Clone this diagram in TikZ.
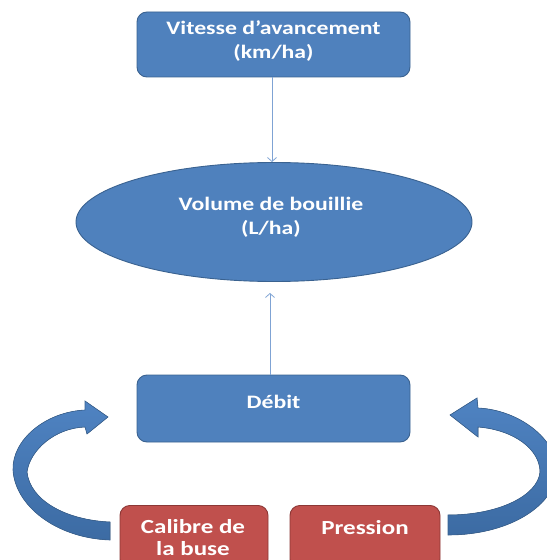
\documentclass[tikz,border=0pt]{standalone}
\usepackage{fontspec}
\newfontfamily\calfont{Carlito}[FakeStretch=1.25]
\usetikzlibrary{shapes.geometric,arrows.meta}
\definecolor{bfill}{HTML}{4F81BD}
\definecolor{bline}{HTML}{3A6290}
\definecolor{rfill}{HTML}{C0504D}
\definecolor{rline}{HTML}{8C3836}
\definecolor{conn}{HTML}{7FA3D4}
\definecolor{ribtop}{HTML}{4F83C2}
\definecolor{ribbot}{HTML}{3C6BA3}
\tikzset{
  bluebox/.style={draw=bline, line width=0.9bp, fill=bfill, rounded corners=10bp, inner sep=0pt},
  redbox/.style={draw=rline, line width=0.9bp, fill=rfill, rounded corners=10bp, inner sep=0pt},
  blueell/.style={draw=bline, line width=0.9bp, fill=bfill, ellipse, inner sep=0pt},
  lbl/.style={text=white, font=\calfont\bfseries\fontsize{19bp}{24bp}\selectfont, align=center, inner sep=0pt},
  rlbl/.style={text=white, font=\calfont\bfseries\fontsize{20bp}{22bp}\selectfont, align=center, inner sep=0pt},
  connector/.style={draw=conn, line width=0.8bp, -{Straight Barb[length=4bp,width=9bp]}},
  ribbon/.style={top color=ribtop, bottom color=ribbot, draw=bline, line width=0.6bp}
}
\begin{document}
\begin{tikzpicture}[x=1bp,y=-1bp]
\useasboundingbox (0,0) rectangle (547,560);
\clip (0,0) rectangle (547,560);
% boxes
\node[bluebox, minimum width=273bp, minimum height=65bp] (vitesse) at (273.5,44.5) {};
\node[lbl] (vitesseT) at (273.5,41) {Vitesse d’avancement\\(km/ha)};
\node[blueell, minimum width=396bp, minimum height=119bp] (volume) at (274,222) {};
\node[lbl] (volumeT) at (271,217) {Volume de bouillie\\(L/ha)};
\node[bluebox, minimum width=273bp, minimum height=67bp] (debit) at (273.5,408.5) {};
\node[lbl] (debitT) at (273.5,402) {Débit};
\node[redbox, minimum width=148bp, minimum height=64bp, anchor=north] (calibre) at (194,505) {};
\node[rlbl] (calibreT) at (193,537.5) {Calibre de\\la buse};
\node[redbox, minimum width=150bp, minimum height=64bp, anchor=north] (pression) at (365,505) {};
\node[rlbl] (pressionT) at (365,528) {Pression};
% connectors
\draw[connector] (vitesse.south -| 272,0) -- (volume.north -| 272,0);
\draw[connector, shorten >=11bp] (debit.north -| 270,0) -- (volume.south -| 270,0);
% curved block arrows
\fill[ribbon] (110,540) -- (110,522)
  .. controls (65,520) and (30,500) .. (27,472)
  .. controls (30,450) and (55,428) .. (85,427)
  -- (87,434) -- (108,417) -- (85,401) -- (85,410)
  .. controls (45,412) and (12,440) .. (13,470)
  .. controls (15,505) and (55,538) .. (110,540) -- cycle;
\fill[ribbon] (448,535) -- (448,515)
  .. controls (500,515) and (538,495) .. (540,472)
  .. controls (540,450) and (515,430) .. (478,427)
  -- (478,437) -- (450,415) -- (477,398) -- (478,408)
  .. controls (520,410) and (557,440) .. (557,470)
  .. controls (556,505) and (510,535) .. (448,535) -- cycle;
\end{tikzpicture}
\end{document}
